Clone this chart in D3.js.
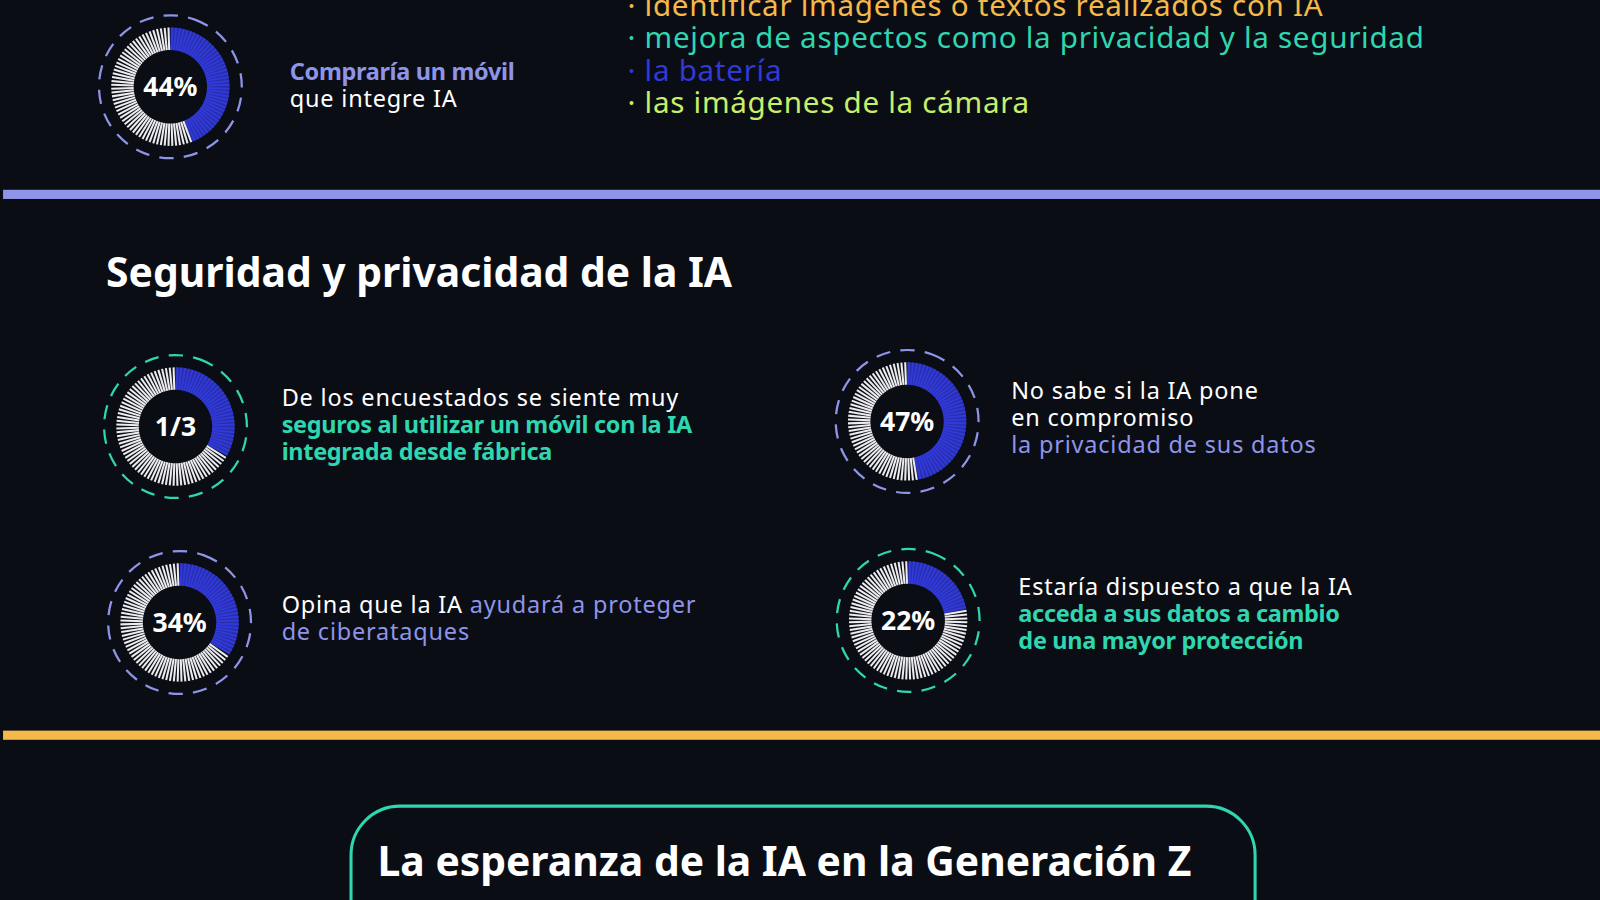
<!DOCTYPE html>
<html><head><meta charset="utf-8">
<script src="https://cdn.jsdelivr.net/npm/d3@7"></script>
<style>
body{margin:0;background:#0b0d14;overflow:hidden}
text{font-family:"Noto Sans",sans-serif}
</style></head><body>
<div id="chart"></div>
<script>
// donut data
var donutLabels = ["44%", "1/3", "34%", "47%", "22%"];
var donutValues = [44, 33.3, 34, 47, 22];
var donutRing = ["lavender", "teal", "lavender", "lavender", "teal"];

var bulletItems = ["identificar imágenes o textos realizados con IA",
  "mejora de aspectos como la privacidad y la seguridad",
  "la batería", "las imágenes de la cámara"];

var colors = {lavender: "#8e95e8", teal: "#2fd6b0", blue: "#3139d8", orange: "#f5b94a", lime: "#c8ef6a"};
var bulletColors = [colors.orange, colors.teal, colors.blue, colors.lime];

var svgWidth = 1600, svgHeight = 900;
var svg0 = d3.select("#chart").append("svg").attr("width", svgWidth).attr("height", svgHeight);
svg0.append("rect").attr("width", svgWidth).attr("height", svgHeight).attr("fill", "#0b0d14");
// layout was measured on a 1568 wide copy
var svg = svg0.append("g").attr("transform", `scale(${1600 / 1568})`);

// donut positions and captions
var centers = [[167, 85], [172, 418], [176, 610], [889, 413], [890, 608]];
var captions = [
  {x: 284, y: 78, lines: [[["Compraría un móvil", colors.lavender, 700]], [["que integre IA", "#fff", 400]]]},
  {x: 276, y: 398, lines: [[["De los encuestados se siente muy", "#fff", 400]], [["seguros al utilizar un móvil con la IA", colors.teal, 700]], [["integrada desde fábrica", colors.teal, 700]]]},
  {x: 276, y: 601, lines: [[["Opina que la IA ", "#fff", 400], ["ayudará a proteger", colors.lavender, 400]], [["de ciberataques", colors.lavender, 400]]]},
  {x: 991, y: 391, lines: [[["No sabe si la IA pone", "#fff", 400]], [["en compromiso", "#fff", 400]], [["la privacidad de sus datos", colors.lavender, 400]]]},
  {x: 998, y: 583, lines: [[["Estaría dispuesto a que la IA", "#fff", 400]], [["acceda a sus datos a cambio", colors.teal, 700]], [["de una mayor protección", colors.teal, 700]]]}
];

var nTicks = 96;
var angle = d3.scaleLinear().domain([0, 100]).range([0, 2 * Math.PI]);
var tickIdx = d3.range(nTicks);

donutValues.forEach(function(v, i) {
  var g = svg.append("g").attr("transform", `translate(${centers[i][0]},${centers[i][1]})`);
  // blue fill under the ticks
  g.append("path").attr("d", d3.arc().innerRadius(36).outerRadius(58).startAngle(0).endAngle(angle(v))())
    .attr("fill", colors.blue).attr("opacity", 0.75);
  // hatched ring
  g.selectAll("line").data(tickIdx).enter().append("line")
    .each(function(k) {
      var a = (k + 0.5) / nTicks * 2 * Math.PI;
      var s = Math.sin(a), c = -Math.cos(a);
      d3.select(this).attr("x1", 36 * s).attr("y1", 36 * c).attr("x2", 58 * s).attr("y2", 58 * c);
    })
    .attr("stroke", function(k) { return (k + 0.5) / nTicks * 100 < v ? colors.blue : "#ececf0"; })
    .attr("stroke-width", 2);
  // dashed outer ring
  g.append("circle").attr("r", 70).attr("fill", "none")
    .attr("stroke", colors[donutRing[i]]).attr("stroke-width", 2.2)
    .attr("stroke-dasharray", "14 10").attr("transform", "rotate(-70)");
  g.append("text").attr("text-anchor", "middle").attr("dy", "0.35em")
    .attr("fill", "#fff").attr("font-size", 26).attr("font-weight", 700).text(donutLabels[i]);

  var cap = captions[i];
  var t = svg.append("text").attr("x", cap.x).attr("y", cap.y).attr("font-size", 23);
  cap.lines.forEach(function(line, li) {
    line.forEach(function(seg, si) {
      var ts = t.append("tspan").text(seg[0]).attr("fill", seg[1]).attr("font-weight", seg[2])
        .attr("letter-spacing", seg[2] === 700 ? -0.3 : 0.8);
      if (si === 0) ts.attr("x", cap.x).attr("dy", li === 0 ? 0 : 26.5);
    });
  });
});

// bullet list
bulletItems.forEach(function(b, i) {
  svg.append("text").attr("x", 615).attr("y", 16 + i * 31.5).attr("font-size", 29).attr("letter-spacing", 0.7)
    .attr("fill", bulletColors[i]).text("· " + b);
});

// dividers
svg.append("rect").attr("x", 3).attr("y", 186).attr("width", 1597).attr("height", 9).attr("fill", colors.lavender);
svg.append("rect").attr("x", 3).attr("y", 716).attr("width", 1597).attr("height", 9).attr("fill", colors.orange);

svg.append("text").attr("x", 104).attr("y", 281).attr("font-size", 40).attr("font-weight", 700)
  .attr("fill", "#fff").text("Seguridad y privacidad de la IA");

// bottom box
svg.append("rect").attr("x", 344).attr("y", 790).attr("width", 886).attr("height", 160).attr("rx", 48)
  .attr("fill", "none").attr("stroke", colors.teal).attr("stroke-width", 3);
svg.append("text").attr("x", 370).attr("y", 858).attr("font-size", 40).attr("font-weight", 700)
  .attr("fill", "#fff").text("La esperanza de la IA en la Generación Z");
</script></body></html>
